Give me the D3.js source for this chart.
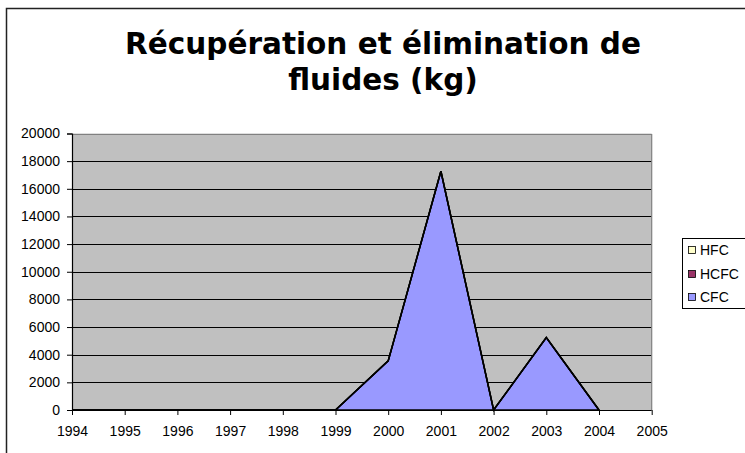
<!DOCTYPE html>
<html><head><meta charset="utf-8">
<script src="https://cdn.jsdelivr.net/npm/d3@7"></script>
<style>body{margin:0;background:#fff}svg{display:block}</style>
</head><body>
<svg id="c" width="745" height="453"></svg>
<script>
const years = [1994,1995,1996,1997,1998,1999,2000,2001,2002,2003,2004];
const hfc   = [0,0,0,0,0,0,0,0,0,0,0];
const hcfc  = [0,0,0,0,0,0,0,0,0,0,0];
const cfc   = [0,0,0,0,0,0,3550,17270,0,5240,0];
const yTicks = [0,2000,4000,6000,8000,10000,12000,14000,16000,18000,20000];
const xTicks = [1994,1995,1996,1997,1998,1999,2000,2001,2002,2003,2004,2005];
const seriesNames = ["HFC","HCFC","CFC"];
const seriesColors = ["#ffffcc","#993366","#9999ff"];

const svg = d3.select("#c");
const font = "'Liberation Sans', Arial, sans-serif";

// outer border
svg.append("rect").attr("x",6.5).attr("y",8.5).attr("width",760).attr("height",460)
  .attr("fill","#fff").attr("stroke","#222").attr("stroke-width",1.5);

// title
const title = svg.append("text").attr("text-anchor","middle")
  .attr("font-family","'DejaVu Sans', Verdana, sans-serif").attr("font-weight","bold")
  .attr("font-size",29.5).attr("fill","#000");
title.append("tspan").attr("x",383).attr("y",54).text("Récupération et élimination de");
title.append("tspan").attr("x",383).attr("y",90).text("fluides (kg)");

const x = d3.scaleLinear().domain([1994,2005]).range([72,651.7]);
const y = d3.scaleLinear().domain([0,20000]).range([410,133.5]);

// plot background
svg.append("rect").attr("x",x(1994)).attr("y",y(20000)).attr("width",x(2005)-x(1994))
  .attr("height",y(0)-y(20000)).attr("fill","#c0c0c0");

// grid
svg.append("g").selectAll("line").data(yTicks.filter(d=>d>0)).join("line")
  .attr("x1",x(1994)).attr("x2",x(2005)).attr("y1",d=>Math.round(y(d))+0.5).attr("y2",d=>Math.round(y(d))+0.5)
  .attr("stroke","#000").attr("stroke-width",1);

// plot border top/right
svg.append("path").attr("d",`M${x(1994)},${Math.round(y(20000))+0.5}H${x(2005)}V${y(0)}`)
  .attr("fill","none").attr("stroke","#808080").attr("stroke-width",1.2);

// stacked areas
const rows = years.map((yr,i)=>({year:yr,CFC:cfc[i],HCFC:hcfc[i],HFC:hfc[i]}));
const stack = d3.stack().keys(["CFC","HCFC","HFC"])(rows);
const area = d3.area().x(d=>x(d.data.year)).y0(d=>y(d[0])).y1(d=>y(d[1]));
const colorOf = {HFC:"#ffffcc",HCFC:"#993366",CFC:"#9999ff"};
svg.append("g").selectAll("path").data(stack).join("path")
  .attr("d",area).attr("fill",d=>colorOf[d.key]).attr("stroke","#000").attr("stroke-width",1.5)
  .attr("stroke-linejoin","miter");

// axes
const yAxis = d3.axisLeft(y).tickValues(yTicks).tickSize(5).tickPadding(7).tickFormat(d3.format("d"));
const gy = svg.append("g").attr("transform",`translate(${x(1994)},0)`).call(yAxis);
const xAxis = d3.axisBottom(x).tickValues(xTicks).tickSize(5).tickPadding(11).tickFormat(d3.format("d"));
const gx = svg.append("g").attr("transform",`translate(0,${y(0)})`).call(xAxis);
[gx,gy].forEach(g=>{
  g.select(".domain").attr("stroke","#000").attr("stroke-width",1.2);
  g.selectAll(".tick line").attr("stroke","#000");
  g.selectAll("text").attr("font-family",font).attr("font-size",14).attr("fill","#000");
});
gx.select(".domain").attr("d",`M${x(1994)},0.5H${x(2005)}`);

// legend
const lg = svg.append("g");
lg.append("rect").attr("x",682.5).attr("y",238.5).attr("width",64).attr("height",70)
  .attr("fill","#fff").attr("stroke","#000").attr("stroke-width",1);
const ly = [250,274,297];
seriesNames.forEach((n,i)=>{
  lg.append("rect").attr("x",688.5).attr("y",ly[i]-3.5).attr("width",7).attr("height",7)
    .attr("fill",seriesColors[i]).attr("stroke","#000").attr("stroke-width",0.8);
  lg.append("text").attr("x",700).attr("y",ly[i]+5).attr("font-family",font).attr("font-size",14)
    .attr("fill","#000").text(n);
});
</script>
</body></html>
